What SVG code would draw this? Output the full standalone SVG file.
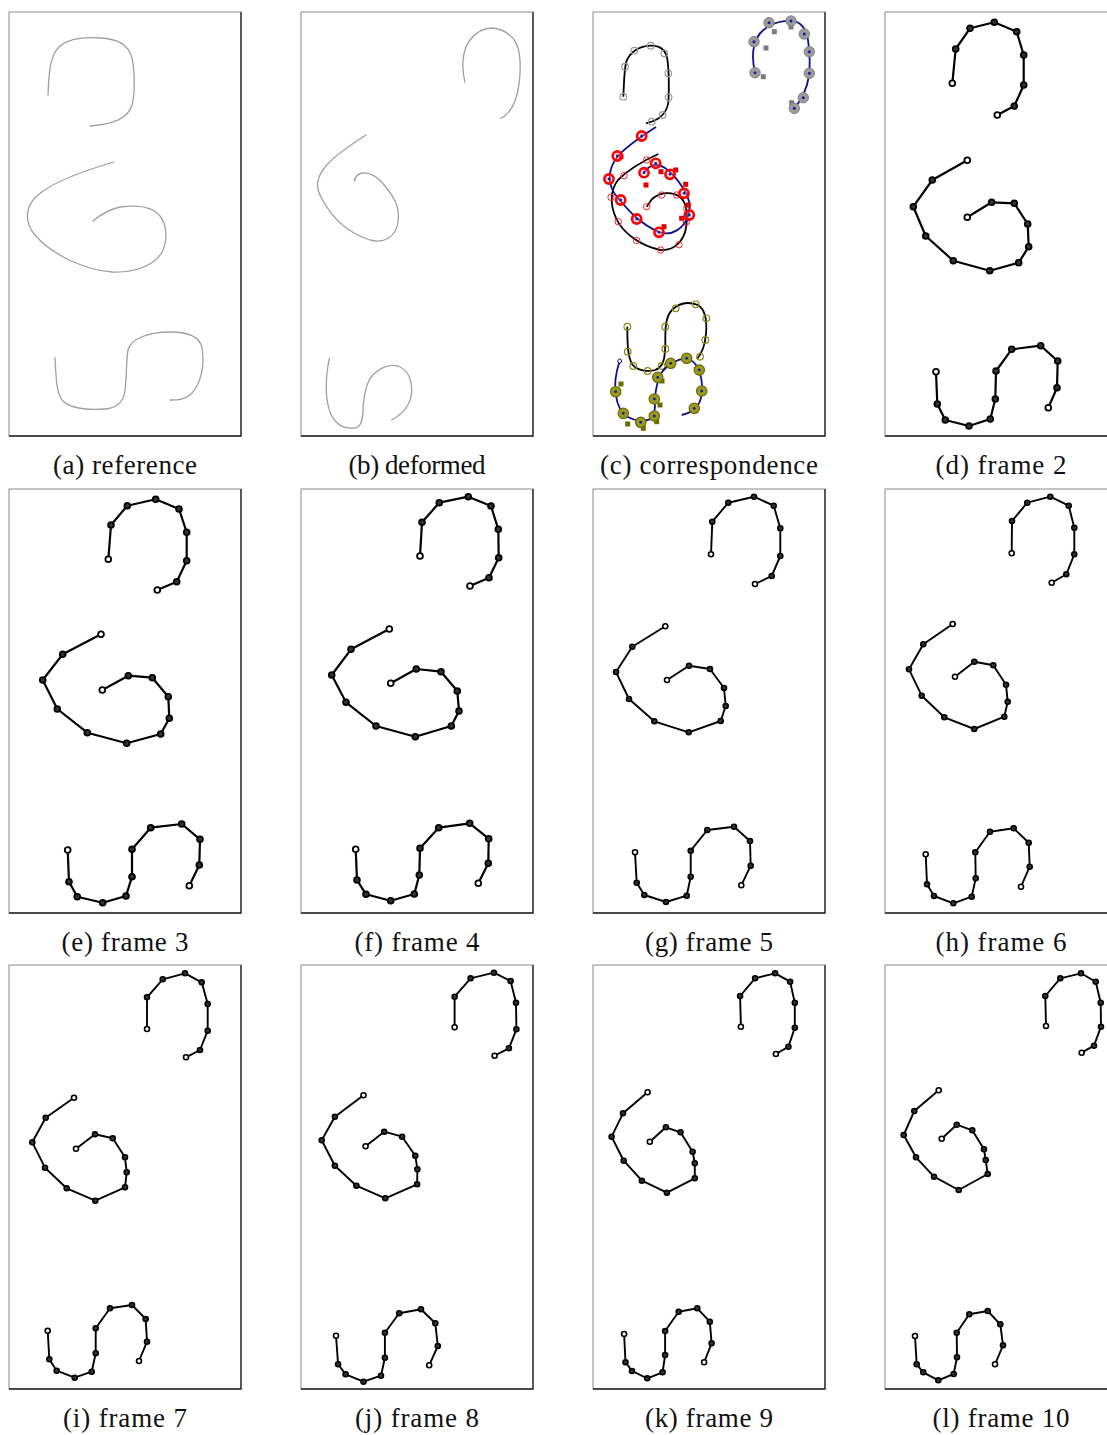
<svg xmlns="http://www.w3.org/2000/svg" width="1107" height="1435" viewBox="0 0 1107 1435">
<style>
.bg{fill:#fff}
.frm{fill:none;stroke:#8a8a8a;stroke-width:1}
.frd{fill:none;stroke:#222;stroke-width:1.3}
.sk{fill:none;stroke:#a0a0a0;stroke-width:1.3;stroke-linecap:round}
.cap{font-family:"Liberation Serif","Times New Roman",serif;font-size:27px;fill:#111;text-anchor:middle}
.pl{fill:none;stroke:#000;stroke-width:2.2;stroke-linejoin:round;marker-start:url(#ne);marker-mid:url(#nm);marker-end:url(#ne)}
.pl2{fill:none;stroke:#000;stroke-width:1.9;stroke-linejoin:round;marker-start:url(#ne2);marker-mid:url(#nm2);marker-end:url(#ne2)}
.bk{fill:none;stroke:#000;stroke-width:1.8}
.bl{fill:none;stroke:#10108a;stroke-width:1.8}
.gc{fill:none;stroke:#9a9a9a;stroke-width:1.2}
.gb{fill:#9c9c9c;stroke:#808080;stroke-width:1}
.gs{fill:#7c7c7c}
.rc{fill:none;stroke:#ff2020;stroke-width:1}
.rb{fill:#ffb0b0;fill-opacity:0.35;stroke:#f00;stroke-width:2.6}
.rs{fill:#e00000}
.oc{fill:none;stroke:#8a8a10;stroke-width:1.2}
.ob{fill:#9a9a22;stroke:#6a6a00;stroke-width:1.2}
.os{fill:#6b6b00}
.dot{fill:#1a1aa0}
</style>
<defs>
<marker id="ne" markerUnits="userSpaceOnUse" markerWidth="10" markerHeight="10" refX="5" refY="5" overflow="visible"><circle cx="5" cy="5" r="2.9" fill="#fff" stroke="#000" stroke-width="1.8"/></marker>
<marker id="nm" markerUnits="userSpaceOnUse" markerWidth="10" markerHeight="10" refX="5" refY="5" overflow="visible"><circle cx="5" cy="5" r="2.9" fill="#333" stroke="#000" stroke-width="1.8"/></marker>
<marker id="ne2" markerUnits="userSpaceOnUse" markerWidth="10" markerHeight="10" refX="5" refY="5" overflow="visible"><circle cx="5" cy="5" r="2.5" fill="#fff" stroke="#000" stroke-width="1.6"/></marker>
<marker id="nm2" markerUnits="userSpaceOnUse" markerWidth="10" markerHeight="10" refX="5" refY="5" overflow="visible"><circle cx="5" cy="5" r="2.5" fill="#333" stroke="#000" stroke-width="1.6"/></marker>
</defs>
<rect class="bg" x="0" y="0" width="1107" height="1435"/>

<g id="frames">
<rect class="frm" x="9" y="12" width="232" height="424"/><path class="frd" d="M241,12V436H9"/>
<rect class="frm" x="301" y="12" width="232" height="424"/><path class="frd" d="M533,12V436H301"/>
<rect class="frm" x="593" y="12" width="232" height="424"/><path class="frd" d="M825,12V436H593"/>
<rect class="frm" x="885" y="12" width="232" height="424"/><path class="frd" d="M1117,12V436H885"/>
<rect class="frm" x="9" y="489" width="232" height="424"/><path class="frd" d="M241,489V913H9"/>
<rect class="frm" x="301" y="489" width="232" height="424"/><path class="frd" d="M533,489V913H301"/>
<rect class="frm" x="593" y="489" width="232" height="424"/><path class="frd" d="M825,489V913H593"/>
<rect class="frm" x="885" y="489" width="232" height="424"/><path class="frd" d="M1117,489V913H885"/>
<rect class="frm" x="9" y="965" width="232" height="424"/><path class="frd" d="M241,965V1389H9"/>
<rect class="frm" x="301" y="965" width="232" height="424"/><path class="frd" d="M533,965V1389H301"/>
<rect class="frm" x="593" y="965" width="232" height="424"/><path class="frd" d="M825,965V1389H593"/>
<rect class="frm" x="885" y="965" width="232" height="424"/><path class="frd" d="M1117,965V1389H885"/>
</g>

<g id="panel-a">
<path class="sk" d="M48,95 C49,70 50,55 60,46 C70,38 85,37 100,38 C118,39 128,44 132,58 C135,72 135,95 132,105 C128,118 115,124 90,126"/>
<path class="sk" d="M114,162 C90,169 55,180 38,195 C25,206 24,222 35,235 C52,255 85,270 112,272 C135,273 155,265 162,252 C168,240 167,225 160,216 C152,206 135,205 120,207 C108,210 100,215 93,221"/>
<path class="sk" d="M55,358 C56,375 56,392 62,400 C70,409 90,410 105,409 C118,408 124,400 125,390 C127,375 126,360 128,350 C131,338 150,332 170,332 C188,332 200,336 202,348 C205,365 201,383 192,393 C185,400 178,400 170,400"/>
</g>

<g id="panel-b">
<path class="sk" d="M465,82 C462,70 461,52 470,40 C477,31 485,28 492,28 C505,29 515,37 518,48 C522,62 520,85 516,98 C512,110 506,116 500.7,118.3"/>
<path class="sk" d="M366,135 C352,144 335,155 326,166 C316,178 315,187 322,199 C330,214 345,232 370,240 C385,244 396,236 398,222 C400,208 395,198 385,186 C377,176 370,172 362,173 C357,174 355,178 354.3,181"/>
<path class="sk" d="M329.3,358.3 C326,375 324,395 330,412 C335,425 345,429 355,428 C362,427 363,418 363,408 C364,395 366,383 372,376 C380,367 390,364 398,366 C408,370 412,380 411.7,392 C411,402 406,412 391.7,420"/>
</g>

<g id="panel-c">
<path class="bk" d="M623.3,96.7 C624,85 624,72 626,63 C629,52 640,46 650.7,45.7 C660,45.5 666,50 667.5,60 C669,72 669,88 668.5,100 C668,110 662,118 652,121.5 L646,123.3"/>
<g class="gc">
<circle cx="623.3" cy="96.7" r="3.3"/><circle cx="625" cy="66.7" r="3.3"/><circle cx="634.3" cy="50.7" r="3.3"/><circle cx="650.7" cy="45.7" r="3.3"/><circle cx="664.3" cy="53.3" r="3.3"/><circle cx="668.3" cy="73.3" r="3.3"/><circle cx="668.6" cy="97.3" r="3.3"/><circle cx="662.7" cy="115" r="3.3"/><circle cx="651.7" cy="121.7" r="3.3"/>
</g>
<path class="bl" d="M755,72.7 C752,60 752,48 757,38 C762,28 775,21 790,20.7 C800,21 806,28 808,40 C810,52 810,65 809,76 C807,88 803,98 794.3,108.3 L791,111.7"/>
<g class="gs">
<rect x="771.8" y="29.2" width="5" height="5"/><rect x="763.5" y="45.5" width="5" height="5"/><rect x="760.8" y="74.2" width="5" height="5"/><rect x="788.5" y="24.5" width="5" height="5"/><rect x="802.5" y="32.5" width="5" height="5"/><rect x="789.2" y="100.2" width="5" height="5"/>
</g>
<g class="gb">
<circle cx="755" cy="72.7" r="5.2"/><circle cx="754" cy="41.7" r="5.2"/><circle cx="769" cy="22.7" r="5.2"/><circle cx="791" cy="21" r="5.2"/><circle cx="804.3" cy="34" r="5.2"/><circle cx="809.3" cy="51.7" r="5.2"/><circle cx="809.3" cy="73.3" r="5.2"/><circle cx="803.3" cy="97.7" r="5.2"/><circle cx="794.3" cy="108.3" r="5.2"/>
</g>
<g class="dot">
<circle cx="755" cy="72.7" r="1.5"/><circle cx="754" cy="41.7" r="1.5"/><circle cx="769" cy="22.7" r="1.5"/><circle cx="791" cy="21" r="1.5"/><circle cx="804.3" cy="34" r="1.5"/><circle cx="809.3" cy="51.7" r="1.5"/><circle cx="809.3" cy="73.3" r="1.5"/><circle cx="803.3" cy="97.7" r="1.5"/><circle cx="794.3" cy="108.3" r="1.5"/>
</g>
<path class="bk" d="M658.3,154 C645,160 628,170 618,180 C610,190 610,205 616,218 C622,232 640,246 660.7,250 C675,251 684,240 686,228 C688,215 687,203 680,197 C672,191 660,192 652,199 L646.7,206.7"/>
<g class="rc">
<circle cx="646.7" cy="160" r="3.2"/><circle cx="624" cy="175.7" r="3.2"/><circle cx="611" cy="197.3" r="3.2"/><circle cx="618.3" cy="221.7" r="3.2"/><circle cx="636.7" cy="240.5" r="3.2"/><circle cx="660.7" cy="250" r="3.2"/><circle cx="679" cy="244.7" r="3.2"/><circle cx="686.2" cy="222" r="3.2"/><circle cx="686.7" cy="208.3" r="3.2"/><circle cx="676.7" cy="195" r="3.2"/><circle cx="661.7" cy="195" r="3.2"/><circle cx="646.7" cy="206.7" r="3.2"/>
</g>
<path class="bl" d="M656,127 C645,134 628,145 618,156 C608,168 606,185 618,198 C628,210 640,224 659,232 C672,237 684,228 688,216 C692,204 688,195 683,188 C678,180 672,173 665,168 C658,163 650,164 644,172.7"/>
<g class="rs">
<rect x="618.5" y="154.2" width="5" height="5"/><rect x="673.2" y="167.5" width="5" height="5"/><rect x="658.5" y="169.2" width="5" height="5"/><rect x="643.5" y="182.5" width="5" height="5"/><rect x="683.2" y="181.8" width="5" height="5"/><rect x="685.8" y="202.5" width="5" height="5"/><rect x="679.2" y="215.8" width="5" height="5"/><rect x="661.5" y="224.2" width="5" height="5"/>
</g>
<g class="rb">
<circle cx="641.7" cy="136" r="4.6"/><circle cx="617.3" cy="156" r="4.6"/><circle cx="609" cy="179" r="4.6"/><circle cx="620.7" cy="200" r="4.6"/><circle cx="636.7" cy="219" r="4.6"/><circle cx="659" cy="232.3" r="4.6"/><circle cx="689.3" cy="215" r="4.6"/><circle cx="684" cy="193.3" r="4.6"/><circle cx="670" cy="174.3" r="4.6"/><circle cx="655.7" cy="163.3" r="4.6"/><circle cx="644" cy="172.7" r="4.6"/>
</g>
<g class="dot">
<circle cx="641.7" cy="136" r="1.4"/><circle cx="617.3" cy="156" r="1.4"/><circle cx="609" cy="179" r="1.4"/><circle cx="620.7" cy="200" r="1.4"/><circle cx="636.7" cy="219" r="1.4"/><circle cx="659" cy="232.3" r="1.4"/><circle cx="689.3" cy="215" r="1.4"/><circle cx="684" cy="193.3" r="1.4"/><circle cx="670" cy="174.3" r="1.4"/><circle cx="655.7" cy="163.3" r="1.4"/><circle cx="644" cy="172.7" r="1.4"/>
</g>
<path class="bk" d="M627.3,326.7 C627.5,340 627,355 632,364 C637,371 648,372 655,370 C664,367 665,357 665.3,345 C665.5,335 664,318 672,310 C680,302 690,302 698,305 C706,310 707,322 706,334 C705,345 703,352 697,359"/>
<g class="oc">
<circle cx="627.3" cy="326.7" r="3.3"/><circle cx="627.7" cy="351.7" r="3.3"/><circle cx="633.3" cy="366" r="3.3"/><circle cx="647.7" cy="371" r="3.3"/><circle cx="661.7" cy="366" r="3.3"/><circle cx="665.3" cy="349" r="3.3"/><circle cx="665.3" cy="326.7" r="3.3"/><circle cx="675.7" cy="308.3" r="3.3"/><circle cx="695.7" cy="304.3" r="3.3"/><circle cx="706.3" cy="318.3" r="3.3"/><circle cx="705.3" cy="340" r="3.3"/><circle cx="700" cy="356.7" r="3.3"/>
</g>
<path class="bl" d="M619.7,361 C616,372 614,385 616,395 C617,405 620,412 628,417 C635,421 645,423 652,418 C656,412 655,405 655,397 C656,388 657,380 662,372 C668,364 678,358 688,359 C697,362 701,372 702,385 C703,395 700,405 694,409 C690,413 686,414 681.7,415"/>
<circle cx="619.7" cy="361" r="2" fill="#fff" stroke="#10108a" stroke-width="1"/>
<g class="os">
<rect x="618.5" y="381.5" width="5" height="5"/><rect x="657.5" y="402.5" width="5" height="5"/><rect x="654.2" y="419.2" width="5" height="5"/><rect x="625.2" y="421.5" width="5" height="5"/><rect x="640.8" y="425.8" width="5" height="5"/><rect x="659.5" y="378.5" width="5" height="5"/>
</g>
<g class="ob">
<circle cx="615.7" cy="391.7" r="5.2"/><circle cx="623.3" cy="413.3" r="5.2"/><circle cx="640.7" cy="422.3" r="5.2"/><circle cx="654.3" cy="416" r="5.2"/><circle cx="654.3" cy="399" r="5.2"/><circle cx="657.7" cy="377.3" r="5.2"/><circle cx="670.7" cy="363.3" r="5.2"/><circle cx="686.7" cy="358.3" r="5.2"/><circle cx="699.3" cy="370" r="5.2"/><circle cx="701.7" cy="391" r="5.2"/><circle cx="694.3" cy="408.3" r="5.2"/>
</g>
<g class="dot">
<circle cx="615.7" cy="391.7" r="1.4"/><circle cx="623.3" cy="413.3" r="1.4"/><circle cx="640.7" cy="422.3" r="1.4"/><circle cx="654.3" cy="416" r="1.4"/><circle cx="654.3" cy="399" r="1.4"/><circle cx="657.7" cy="377.3" r="1.4"/><circle cx="670.7" cy="363.3" r="1.4"/><circle cx="686.7" cy="358.3" r="1.4"/><circle cx="699.3" cy="370" r="1.4"/><circle cx="701.7" cy="391" r="1.4"/><circle cx="694.3" cy="408.3" r="1.4"/>
</g>
</g>

<g id="panel-d">
<polyline class="pl" points="952.3,83.3 955.7,49 970,28.3 994.3,22.3 1016.7,31.7 1023.7,55 1023.7,85 1014.3,106 997.3,115"/>
<polyline class="pl" points="967.3,160.3 932.3,180 913.3,206.7 925.7,236 953.3,260.7 989.7,270.7 1018.7,262.7 1028.7,246.7 1027.7,224 1014.3,203.3 991.7,202.3 967.3,217.3"/>
<polyline class="pl" points="936,371.7 937.3,404 945.3,420 969,426 990.3,419 995.3,399 996,371 1011.7,349.3 1040.7,345.7 1057.7,361 1057,387.7 1048.3,407.7"/>
</g>
<g id="panel-e">
<polyline class="pl" points="108.3,559.3 111,525 127.3,505.7 155.7,499.3 179,509 186.7,532.3 186.7,560.7 176.7,581.7 157.3,590"/>
<polyline class="pl" points="101,634.3 62.7,654.3 42.7,680 57.3,709 87.3,732.7 126.7,743.3 160.7,734 169.3,718.3 168.3,696.7 152.3,677.7 128.3,675.7 102.3,690"/>
<polyline class="pl" points="67.7,850 69,881.7 77.3,896.7 102.7,902.7 126,896 132,876.7 132,849.3 150.7,827.7 181.7,824 200,839.3 199.3,865 189.3,885.7"/>
</g>
<g id="panel-f">
<polyline class="pl" points="420,556 422,522.3 439.3,502.7 468.3,496.7 491,506 498.3,529.3 498.7,557.7 489,577.7 470,586"/>
<polyline class="pl" points="389.3,629 351,649.3 331.7,675 346,702.3 376,726 415.3,736.7 451.3,726 459,711 457.3,691 441,671.7 416.3,669 390.7,683.3"/>
<polyline class="pl" points="355.7,849.3 357,880 366,894.3 390.7,900.7 414.3,894 419.3,875 420,848.3 438.7,827.7 469.7,823.3 488.7,838.7 488.3,863.3 478.3,883.3"/>
</g>
<g id="panel-g">
<polyline class="pl2" points="711,554.3 712.3,521.7 728.3,502.7 754,496.7 773.7,505.7 780.3,528.3 780.3,556 771.7,576 755,584"/>
<polyline class="pl2" points="665.3,626.3 632.3,646.7 616,672 629,699 654.3,721.3 688.7,732.3 720.7,721 725.7,706 724,688 710,669 689,665.7 667,680"/>
<polyline class="pl2" points="635,852.3 636.7,882.7 644.3,895 666,902 686.7,895.7 690.7,876.7 690.7,850.7 707.3,830 734,826.7 750,841 750.7,865.7 741.3,885.3"/>
</g>
<g id="panel-h">
<polyline class="pl2" points="1011.7,553.3 1012,521 1027.3,502.7 1050.3,496.7 1068.7,505.7 1074.3,527.7 1074.3,554.3 1066.3,574.3 1051.7,582.7"/>
<polyline class="pl2" points="952.7,624 923.3,644.3 909,669.3 921.7,695.7 944.3,717.3 974.3,729 1004.3,716.7 1007.7,701.7 1006,684.7 993.3,665.3 974.3,661.7 955,676.7"/>
<polyline class="pl2" points="925.7,854.3 927,884.3 934,896 953.3,903.3 971.7,896.7 975.7,878.3 975.3,852.3 990,831.7 1013.7,828.3 1028.7,842.7 1029.7,866.7 1021,886.7"/>
</g>
<g id="panel-i">
<polyline class="pl2" points="147,1029 147,997.3 162.7,979.3 185,973.3 201.7,982.3 207.7,1004 207.7,1030.7 200,1050 186,1057.3"/>
<polyline class="pl2" points="74,1097.7 45.7,1117.7 32.3,1142.3 45,1167.7 66.7,1188.3 95.3,1200.7 125,1187.3 126.7,1172.3 125,1157.3 112.7,1138.3 95,1134.3 76,1148.7"/>
<polyline class="pl2" points="47.7,1330.7 49.3,1359.3 56.7,1370.7 74.7,1377.7 91.7,1371.7 95.7,1353.3 95.7,1328.3 110,1308.3 132,1305 145.7,1319 147,1341.7 139,1361"/>
</g>
<g id="panel-j">
<polyline class="pl2" points="454.6,1027.3 454.6,996.7 470.6,978.3 493.9,972.7 510.6,981 516,1002.7 516.4,1029.3 508.9,1048.3 494.6,1055.7"/>
<polyline class="pl2" points="363.5,1095.3 334.9,1116.7 321.7,1140.3 334.9,1165.7 356.4,1185.7 385.3,1198.3 417.1,1184.3 417.4,1169.3 415.3,1155.7 402.1,1136.7 384.2,1131.7 365.6,1146.3"/>
<polyline class="pl2" points="336,1335.7 338.1,1364.3 345.6,1374.3 363.5,1381.7 381,1375.7 384.9,1357.7 384.9,1332.7 399.2,1313.3 421,1309.3 435.3,1323.3 437.8,1346 429.2,1365.3"/>
</g>
<g id="panel-k">
<polyline class="pl2" points="740.9,1026.7 740.1,996 755.1,978.3 775.1,973.3 790.1,981.7 794.8,1002.7 794.8,1027.7 788.4,1046.7 775.9,1054"/>
<polyline class="pl2" points="647.6,1092.3 623,1113.3 611.6,1136.7 623.7,1160.7 641.9,1180.7 666.9,1192.7 694.8,1178.3 694.8,1163.3 692.6,1151.7 680.5,1132.3 665.9,1127.3 649.8,1141.7"/>
<polyline class="pl2" points="624.1,1334 625.5,1362.3 632,1371 647.3,1378.3 662.6,1372.3 665.1,1355 665.1,1331 678.7,1311.7 697.3,1308.3 709.8,1321.7 711.6,1343.3 704.1,1362.3"/>
</g>
<g id="panel-l">
<polyline class="pl2" points="1046,1026 1045.3,996 1060.3,978.3 1081,973.3 1095.7,981.7 1100.7,1002.7 1101,1026.7 1094,1045.7 1081.7,1052.7"/>
<polyline class="pl2" points="938.7,1090.3 914.3,1111 903.7,1135 916,1157.3 934,1176.7 958.7,1190 987.7,1174 985.7,1160 984,1149.3 972.3,1130.3 956.7,1124.7 941.7,1138.7"/>
<polyline class="pl2" points="915,1336 916.7,1364.3 923.3,1372.3 938.3,1380.3 953.7,1374 957,1357.3 956.7,1332.7 969.3,1314.3 987.7,1311 1000.3,1324.3 1003,1345.3 995,1364.3"/>
</g>

<g id="captions">
<text class="cap" x="125" y="474" textLength="144" lengthAdjust="spacing">(a) reference</text>
<text class="cap" x="417" y="474" textLength="137" lengthAdjust="spacing">(b) deformed</text>
<text class="cap" x="709" y="474" textLength="218" lengthAdjust="spacing">(c) correspondence</text>
<text class="cap" x="1001" y="474" textLength="131" lengthAdjust="spacing">(d) frame 2</text>
<text class="cap" x="125" y="951" textLength="127" lengthAdjust="spacing">(e) frame 3</text>
<text class="cap" x="417" y="951" textLength="125" lengthAdjust="spacing">(f) frame 4</text>
<text class="cap" x="709" y="951" textLength="128" lengthAdjust="spacing">(g) frame 5</text>
<text class="cap" x="1001" y="951" textLength="131" lengthAdjust="spacing">(h) frame 6</text>
<text class="cap" x="125" y="1427" textLength="124" lengthAdjust="spacing">(i) frame 7</text>
<text class="cap" x="417" y="1427" textLength="124" lengthAdjust="spacing">(j) frame 8</text>
<text class="cap" x="709" y="1427" textLength="128" lengthAdjust="spacing">(k) frame 9</text>
<text class="cap" x="1001" y="1427" textLength="137" lengthAdjust="spacing">(l) frame 10</text>
</g>
</svg>
